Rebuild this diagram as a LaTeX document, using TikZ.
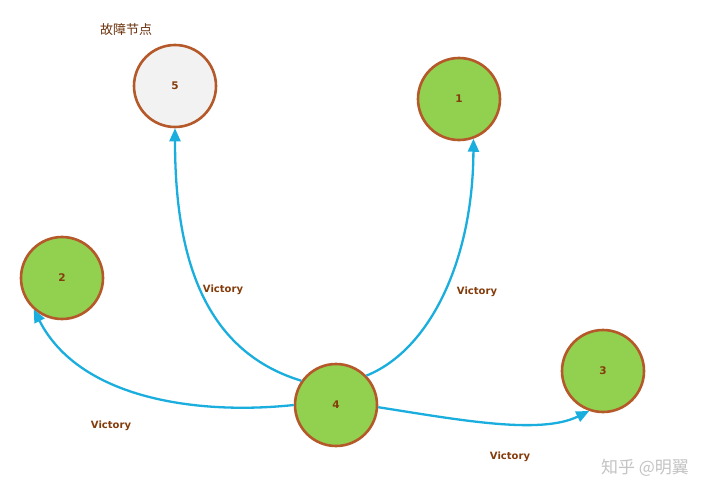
\documentclass[tikz,border=0pt]{standalone}
\usepackage{fontspec}
\setmainfont{DejaVu Sans}
\newfontfamily\cjk{Noto Sans CJK SC}
\usetikzlibrary{arrows.meta}
\definecolor{nodegreen}{HTML}{92D050}
\definecolor{nodegray}{HTML}{F2F2F2}
\definecolor{rim}{HTML}{B5592B}
\definecolor{txtbrown}{HTML}{843C0C}
\definecolor{edgeblue}{HTML}{19AEDE}
\definecolor{wm}{HTML}{C4C4C4}
\tikzset{
  stnode/.style={circle, draw=rim, line width=2.6pt, minimum size=82pt, inner sep=0pt,
    font=\fontsize{10.5}{12}\selectfont\bfseries, text=txtbrown},
  okn/.style={stnode, fill=nodegreen},
  badn/.style={stnode, fill=nodegray},
  link/.style={draw=edgeblue, line width=2.3pt, -{Triangle[length=13pt,width=11pt]}},
  lbl/.style={font=\fontsize{10}{11}\selectfont\bfseries, text=txtbrown},
}
\begin{document}
\begin{tikzpicture}[x=1pt,y=-1pt]
\useasboundingbox (0,0) rectangle (720,500);
\fill[white] (0,0) rectangle (720,500);
\node[badn] (n5) at (175,86) {5};
\node[okn] (n1) at (459,99) {1};
\node[okn] (n2) at (62,278) {2};
\node[okn] (n3) at (603,371) {3};
\node[okn] (n4) at (336,405) {4};
\node[font=\cjk\fontsize{13}{15}\selectfont, text=txtbrown!80!black] (t5) at (126,30) {故障节点};
\draw[link] (n4.145) .. controls (200,350) and (175,250) .. (n5.south);
\draw[link] (n4.44) .. controls (430,350) and (473,260) .. (n1.-70);
\draw[link] (n4.180) .. controls (200,415) and (80,400) .. (n2.-132);
\draw[link] (n4.-3) .. controls (460,420) and (540,435) .. (n3.-109);
\node[lbl] (l5) at (223,290) {Victory};
\node[lbl] (l1) at (477,292) {Victory};
\node[lbl] (l2) at (111,426) {Victory};
\node[lbl] (l3) at (510,457) {Victory};
\node[font=\cjk\fontsize{17}{19}\selectfont, text=wm] (wmk) at (645,468) {知乎 @明翼};
\end{tikzpicture}
\end{document}
